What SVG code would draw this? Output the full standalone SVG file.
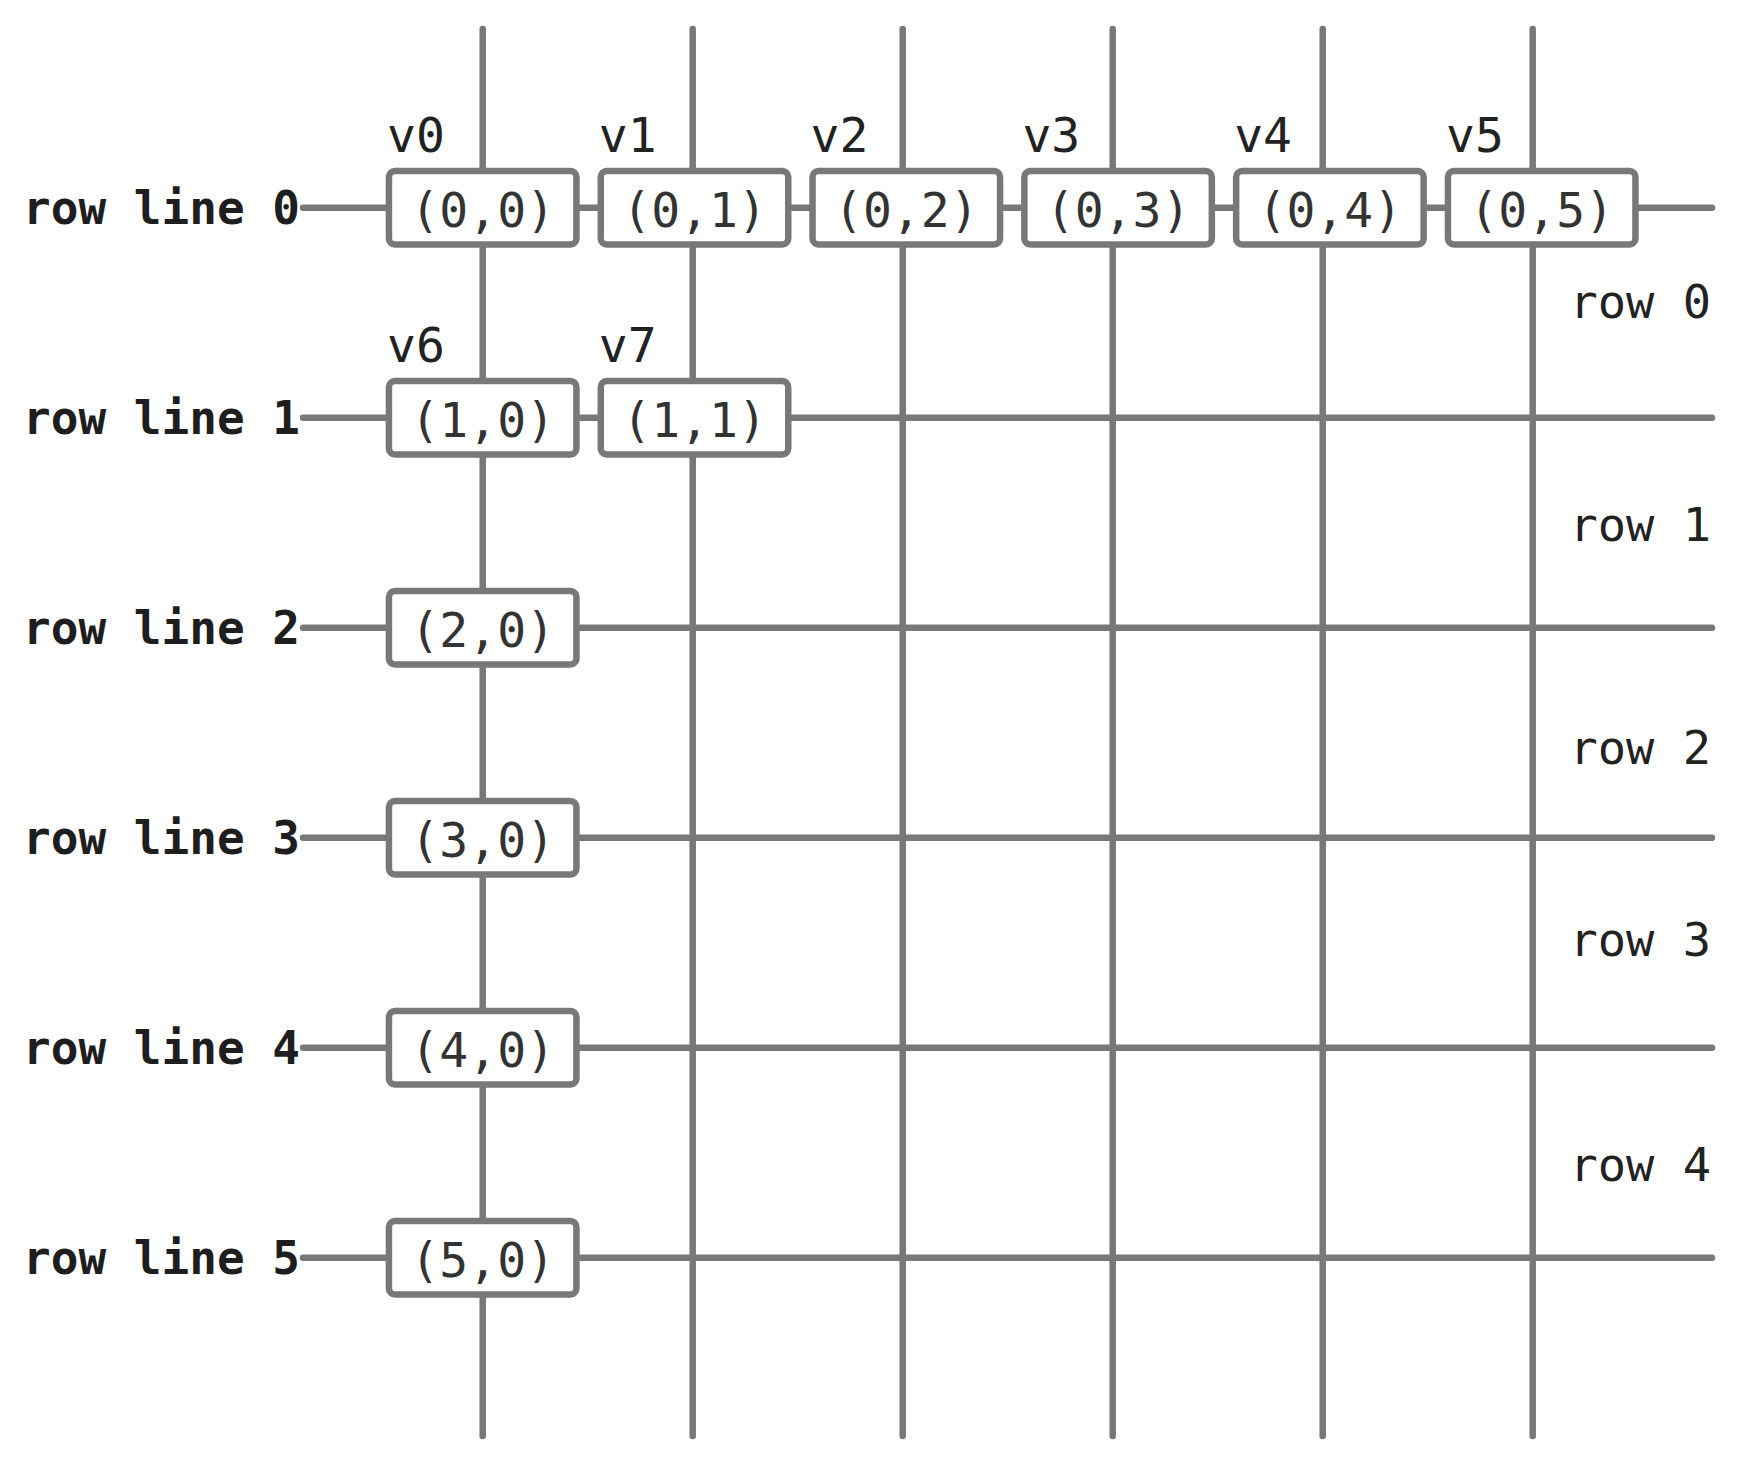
<svg xmlns="http://www.w3.org/2000/svg" width="1741" height="1462" viewBox="0 0 1741 1462">
<style>
.ln{stroke:#787878;stroke-width:6.5;stroke-linecap:round;fill:none}
.box{fill:#ffffff;stroke:#787878;stroke-width:6.5}
.t{font-family:"DejaVu Sans Mono","Liberation Mono",monospace;font-size:46px}
.nt{fill:#333333;text-anchor:middle;font-size:48px}
.vl{fill:#222222;font-size:48px}
.rl{fill:#1e1e1e;font-weight:bold;text-anchor:end}
.rr{fill:#222222;text-anchor:end;font-size:47px}
</style>
<rect width="1741" height="1462" fill="#ffffff"/>
<g id="connectors">
<line class="ln" x1="482.7" y1="29" x2="482.7" y2="1436"/>
<line class="ln" x1="692.7" y1="29" x2="692.7" y2="1436"/>
<line class="ln" x1="902.7" y1="29" x2="902.7" y2="1436"/>
<line class="ln" x1="1112.7" y1="29" x2="1112.7" y2="1436"/>
<line class="ln" x1="1322.7" y1="29" x2="1322.7" y2="1436"/>
<line class="ln" x1="1532.7" y1="29" x2="1532.7" y2="1436"/>
<line class="ln" x1="303" y1="207.7" x2="1712" y2="207.7"/>
<line class="ln" x1="303" y1="417.7" x2="1712" y2="417.7"/>
<line class="ln" x1="303" y1="627.7" x2="1712" y2="627.7"/>
<line class="ln" x1="303" y1="837.7" x2="1712" y2="837.7"/>
<line class="ln" x1="303" y1="1047.7" x2="1712" y2="1047.7"/>
<line class="ln" x1="303" y1="1257.7" x2="1712" y2="1257.7"/>
</g>
<g id="row-line-labels">
<text class="t rl" x="300" y="224">row line 0</text>
<text class="t rl" x="300" y="434">row line 1</text>
<text class="t rl" x="300" y="644">row line 2</text>
<text class="t rl" x="300" y="854">row line 3</text>
<text class="t rl" x="300" y="1064">row line 4</text>
<text class="t rl" x="300" y="1274">row line 5</text>
</g>
<g id="row-labels">
<text class="t rr" x="1711" y="318">row 0</text>
<text class="t rr" x="1711" y="541">row 1</text>
<text class="t rr" x="1711" y="764">row 2</text>
<text class="t rr" x="1711" y="956">row 3</text>
<text class="t rr" x="1711" y="1181">row 4</text>
</g>
<g id="n00"><rect class="box" x="388.95" y="170.95" width="187.5" height="73.5" rx="6"/><text class="t nt" x="482.7" y="227">(0,0)</text><text class="t vl" x="387" y="152">v0</text></g>
<g id="n01"><rect class="box" x="600.75" y="170.95" width="187.5" height="73.5" rx="6"/><text class="t nt" x="694.5" y="227">(0,1)</text><text class="t vl" x="598.8" y="152">v1</text></g>
<g id="n02"><rect class="box" x="812.55" y="170.95" width="187.5" height="73.5" rx="6"/><text class="t nt" x="906.3" y="227">(0,2)</text><text class="t vl" x="810.6" y="152">v2</text></g>
<g id="n03"><rect class="box" x="1024.35" y="170.95" width="187.5" height="73.5" rx="6"/><text class="t nt" x="1118.1" y="227">(0,3)</text><text class="t vl" x="1022.4" y="152">v3</text></g>
<g id="n04"><rect class="box" x="1236.15" y="170.95" width="187.5" height="73.5" rx="6"/><text class="t nt" x="1329.9" y="227">(0,4)</text><text class="t vl" x="1234.2" y="152">v4</text></g>
<g id="n05"><rect class="box" x="1447.95" y="170.95" width="187.5" height="73.5" rx="6"/><text class="t nt" x="1541.7" y="227">(0,5)</text><text class="t vl" x="1446" y="152">v5</text></g>
<g id="n10"><rect class="box" x="388.95" y="380.95" width="187.5" height="73.5" rx="6"/><text class="t nt" x="482.7" y="437">(1,0)</text><text class="t vl" x="387" y="362">v6</text></g>
<g id="n11"><rect class="box" x="600.75" y="380.95" width="187.5" height="73.5" rx="6"/><text class="t nt" x="694.5" y="437">(1,1)</text><text class="t vl" x="598.8" y="362">v7</text></g>
<g id="n20"><rect class="box" x="388.95" y="590.95" width="187.5" height="73.5" rx="6"/><text class="t nt" x="482.7" y="647">(2,0)</text></g>
<g id="n30"><rect class="box" x="388.95" y="800.95" width="187.5" height="73.5" rx="6"/><text class="t nt" x="482.7" y="857">(3,0)</text></g>
<g id="n40"><rect class="box" x="388.95" y="1010.95" width="187.5" height="73.5" rx="6"/><text class="t nt" x="482.7" y="1067">(4,0)</text></g>
<g id="n50"><rect class="box" x="388.95" y="1220.95" width="187.5" height="73.5" rx="6"/><text class="t nt" x="482.7" y="1277">(5,0)</text></g>
</svg>
